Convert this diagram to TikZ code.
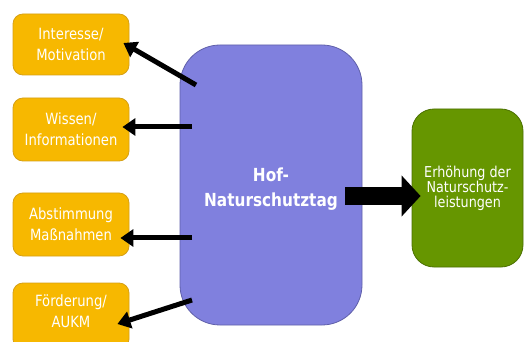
\documentclass[tikz,border=0pt]{standalone}
\usepackage{fontspec}
\setmainfont{DejaVu Sans}[FakeStretch=0.85]
\usetikzlibrary{arrows.meta}
\definecolor{orfill}{RGB}{247,184,0}
\definecolor{ordraw}{RGB}{214,160,20}
\definecolor{pufill}{RGB}{128,128,222}
\definecolor{pudraw}{RGB}{96,96,170}
\definecolor{grfill}{RGB}{102,150,0}
\definecolor{grdraw}{RGB}{75,112,0}
\tikzset{
  obox/.style={draw=ordraw, line width=0.8pt, fill=orfill, rounded corners=10pt,
    minimum width=116pt, align=center, text=white,
    font=\fontsize{15.5}{21}\selectfont, inner sep=0pt},
  sarrow/.style={line width=5pt, -{Triangle[length=13pt,width=17pt]}},
}
\begin{document}
\begin{tikzpicture}[x=1pt,y=-1pt]
\clip (0,0) rectangle (528,342);
\fill[white] (0,0) rectangle (528,342);
\node[obox, minimum height=61pt] (int) at (71,44.5) {Interesse/\\Motivation};
\node[obox, minimum height=63pt] (wis) at (71,129.5) {Wissen/\\Informationen};
\node[obox, minimum height=63pt] (abs) at (71,224.5) {Abstimmung\\Maßnahmen};
\node[obox, minimum height=66pt] (foe) at (71,316) {Förderung/\\AUKM\\[-12pt]\mbox{}};
\node[draw=pudraw, line width=0.8pt, fill=pufill, rounded corners=40pt,
  minimum width=182pt, minimum height=280pt, inner sep=0pt] (hof) at (271,185) {};
\node[text=white, align=center, font=\fontsize{18}{25}\bfseries\selectfont] (hoft) at (271,189) {Hof-\\Naturschutztag};
\node[draw=grdraw, line width=0.8pt, fill=grfill, rounded corners=22pt,
  minimum width=111pt, minimum height=158pt, inner sep=0pt, align=center, text=white,
  font=\fontsize{15}{15}\selectfont] (erh) at (467.5,188) {Erhöhung der\\Naturschutz-\\leistungen};
\coordinate (s1) at (196,85);
\coordinate (s2) at (192,127);
\coordinate (s3) at (192,238);
\coordinate (s4) at (192,300);
\draw[sarrow] (s1) -- ([shift={(-6,-1.5)}]int.east);
\draw[sarrow] (s2) -- ([shift={(-7,-2.5)}]wis.east);
\draw[sarrow] (s3) -- ([shift={(-9,13.5)}]abs.east);
\draw[sarrow] (s4) -- ([shift={(-12,8)}]foe.east);
\draw[line width=18pt, -{Triangle[length=19pt,width=40pt]}]
  ([shift={(-17,11)}]hof.east) -- ([shift={(9,8)}]erh.west);
\end{tikzpicture}
\end{document}
